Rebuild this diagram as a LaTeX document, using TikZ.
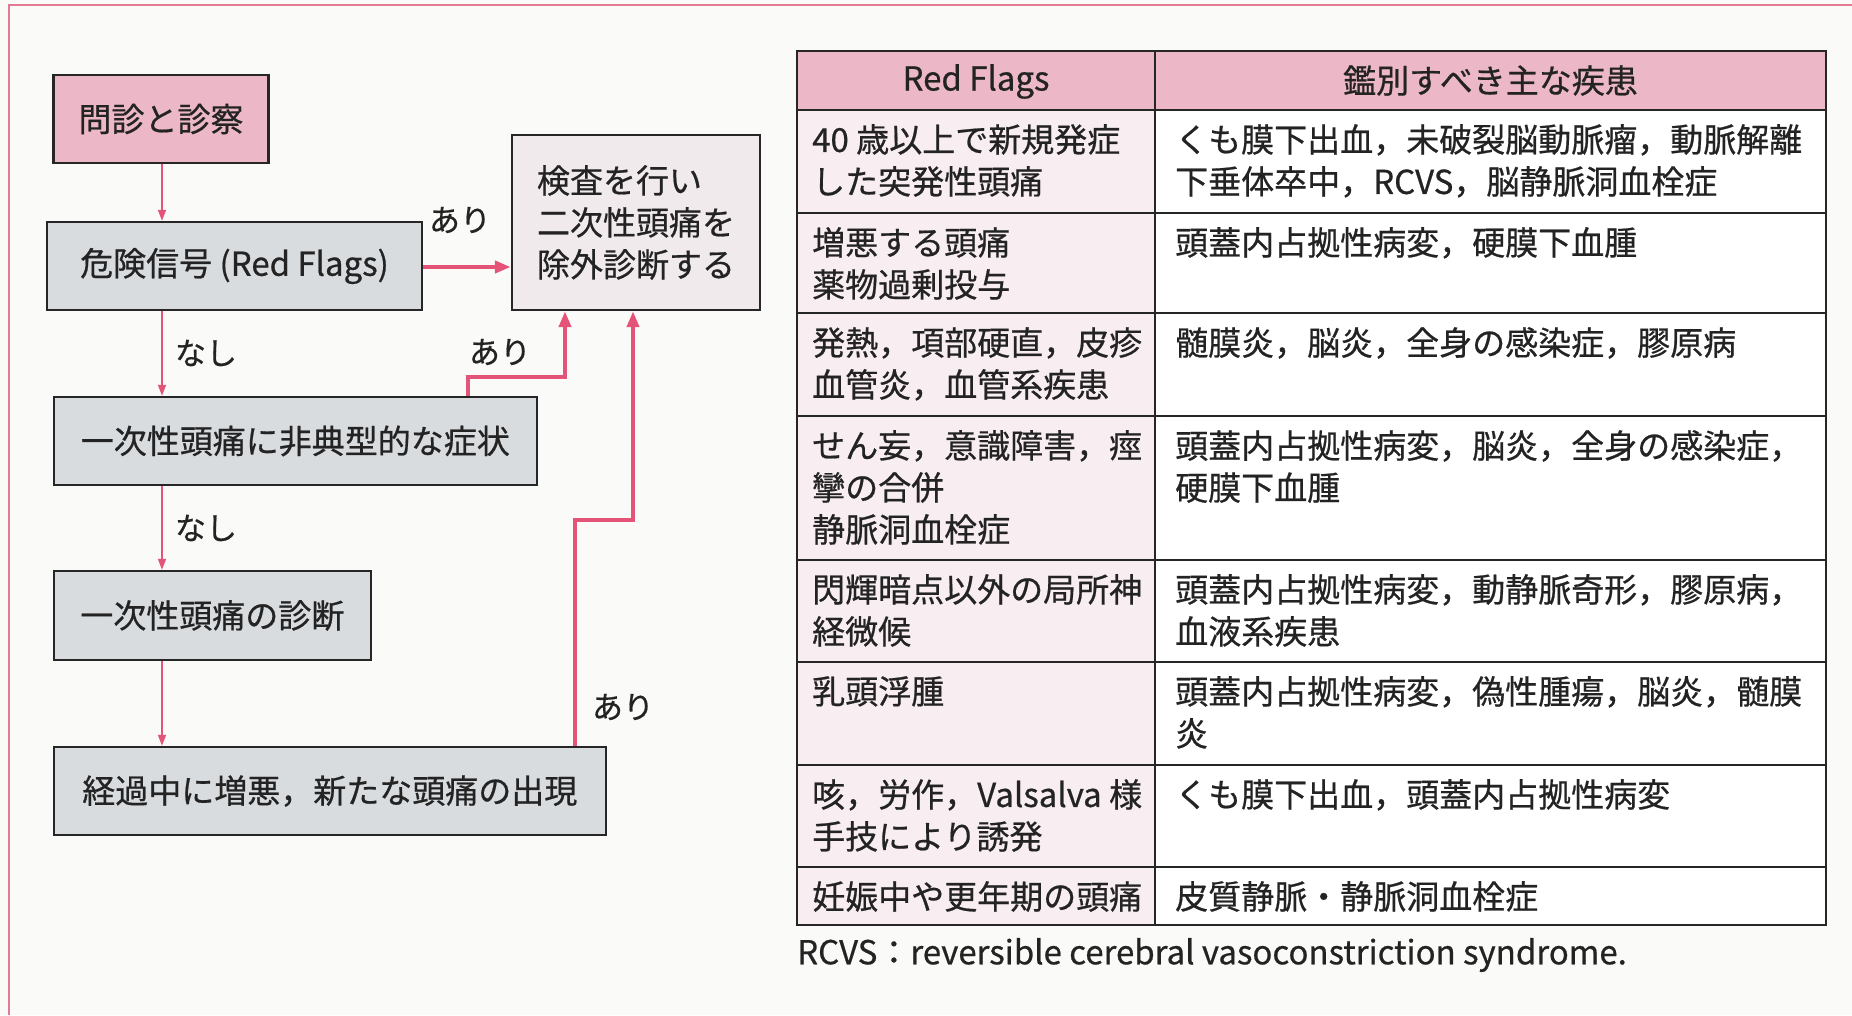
\documentclass[tikz,border=0pt]{standalone}
\usepackage{fontspec}
\setmainfont{Noto Sans CJK JP}[FakeBold=0.6]
\usetikzlibrary{arrows.meta}
\definecolor{bgc}{RGB}{250,250,249}
\definecolor{framec}{RGB}{226,122,148}
\definecolor{pinkc}{RGB}{236,184,199}
\definecolor{grayc}{RGB}{216,220,223}
\definecolor{palec}{RGB}{241,234,236}
\definecolor{leftc}{RGB}{248,237,240}
\definecolor{arrowc}{RGB}{228,84,120}
\definecolor{linec}{RGB}{38,38,38}
\definecolor{textc}{RGB}{35,35,35}
\tikzset{
  box/.style={draw=linec, line width=2.4pt, inner sep=0pt, text=textc,
    font=\fontsize{33}{42}\selectfont},
  pinkbox/.style={box, fill=pinkc},
  graybox/.style={box, fill=grayc},
  palebox/.style={box, fill=palec},
  thinarrow/.style={draw=arrowc, line width=1.7pt, -{Triangle[length=11pt,width=8pt]}},
  thickarrow/.style={draw=arrowc, line width=4pt, -{Triangle[length=16pt,width=12pt]}},
  lbl/.style={inner sep=0pt, text=textc, font=\fontsize{31}{36}\selectfont},
  tline/.style={draw=linec, line width=2.6pt},
  cell/.style={anchor=north west, align=left, inner sep=0pt, text=textc,
    font=\fontsize{33}{42}\selectfont},
  headtxt/.style={inner sep=0pt, text=textc, font=\fontsize{33}{42}\selectfont},
}
\begin{document}
\begin{tikzpicture}[x=1pt,y=-1pt]
\useasboundingbox (0,0) rectangle (1852,1015);
\fill[bgc] (0,0) rectangle (1852,1015);
\draw[framec, line width=2.5pt] (9,1015) -- (9,5) -- (1852,5);

% ---------- flowchart ----------
\node[pinkbox, minimum width=215pt, minimum height=88pt] (b1) at (161,119) {問診と診察};
\node[graybox, minimum width=375pt, minimum height=88pt] (b2) at (234.5,266) {危険信号 (Red Flags)};
\node[palebox, minimum width=248pt, minimum height=175pt, align=left] (b3) at (636,222.5) {検査を行い\\二次性頭痛を\\除外診断する};
\node[graybox, minimum width=483pt, minimum height=88pt] (b4) at (295.3,441) {一次性頭痛に非典型的な症状};
\node[graybox, minimum width=317pt, minimum height=89pt] (b5) at (212.3,615.5) {一次性頭痛の診断};
\node[graybox, minimum width=552pt, minimum height=88pt] (b6) at (329.8,791) {経過中に増悪，新たな頭痛の出現};

\coordinate (spine) at (162,0);
\coordinate (k1) at (468,377);
\coordinate (k2) at (565,377);
\coordinate (k3) at (575,520);
\coordinate (k4) at (633,520);

\draw[thinarrow] (b1.south -| spine) -- (b2.north -| spine);
\draw[thinarrow] (b2.south -| spine) -- (b4.north -| spine);
\draw[thinarrow] (b4.south -| spine) -- (b5.north -| spine);
\draw[thinarrow] (b5.south -| spine) -- (b6.north -| spine);
\draw[thickarrow] (b2.east |- 0,267) -- (b3.west |- 0,267);
\draw[thickarrow] (b4.north -| k1) -- (k1) -- (k2) -- (b3.south -| k2);
\draw[thickarrow] (b6.north -| k3) -- (k3) -- (k4) -- (b3.south -| k4);

\node[lbl] (l1) at (460,220) {あり};
\node[lbl] (l2) at (206,353) {なし};
\node[lbl] (l3) at (500,352) {あり};
\node[lbl] (l4) at (206,528) {なし};
\node[lbl] (l5) at (623,707) {あり};

% ---------- table ----------
\fill[pinkc] (797,51) rectangle (1826,110);
\fill[leftc] (797,110) rectangle (1155,925);
\fill[white] (1155,110) rectangle (1826,925);
\foreach \yy in {110,213,313,416,560,662,765,867}
  \draw[tline] (797,\yy) -- (1826,\yy);
\draw[tline] (1155,51) -- (1155,925);
\draw[tline] (797,51) rectangle (1826,925);

\node[headtxt] (h1) at (976,81.5) {Red Flags};
\node[headtxt] (h2) at (1490.5,80.5) {鑑別すべき主な疾患};

\node[cell] (r1a) at (812,124) {40 歳以上で新規発症\\した突発性頭痛};
\node[cell] (r1b) at (1175,124) {くも膜下出血，未破裂脳動脈瘤，動脈解離\\下垂体卒中，RCVS，脳静脈洞血栓症};
\node[cell] (r2a) at (812,227) {増悪する頭痛\\薬物過剰投与};
\node[cell] (r2b) at (1175,227) {頭蓋内占拠性病変，硬膜下血腫};
\node[cell] (r3a) at (812,327) {発熱，項部硬直，皮疹\\血管炎，血管系疾患};
\node[cell] (r3b) at (1175,327) {髄膜炎，脳炎，全身の感染症，膠原病};
\node[cell] (r4a) at (812,430) {せん妄，意識障害，痙\\攣の合併\\静脈洞血栓症};
\node[cell] (r4b) at (1175,430) {頭蓋内占拠性病変，脳炎，全身の感染症，\\硬膜下血腫};
\node[cell] (r5a) at (812,574) {閃輝暗点以外の局所神\\経微候};
\node[cell] (r5b) at (1175,574) {頭蓋内占拠性病変，動静脈奇形，膠原病，\\血液系疾患};
\node[cell] (r6a) at (812,676) {乳頭浮腫};
\node[cell] (r6b) at (1175,676) {頭蓋内占拠性病変，偽性腫瘍，脳炎，髄膜\\炎};
\node[cell] (r7a) at (812,779) {咳，労作，Valsalva 様\\手技により誘発};
\node[cell] (r7b) at (1175,779) {くも膜下出血，頭蓋内占拠性病変};
\node[cell] (r8a) at (812,881) {妊娠中や更年期の頭痛};
\node[cell] (r8b) at (1175,881) {皮質静脈・静脈洞血栓症};

\node[anchor=west, inner sep=0pt, text=textc, font=\fontsize{33}{38}\selectfont] (fn) at (797,955) {RCVS：reversible cerebral vasoconstriction syndrome.};
\end{tikzpicture}
\end{document}
